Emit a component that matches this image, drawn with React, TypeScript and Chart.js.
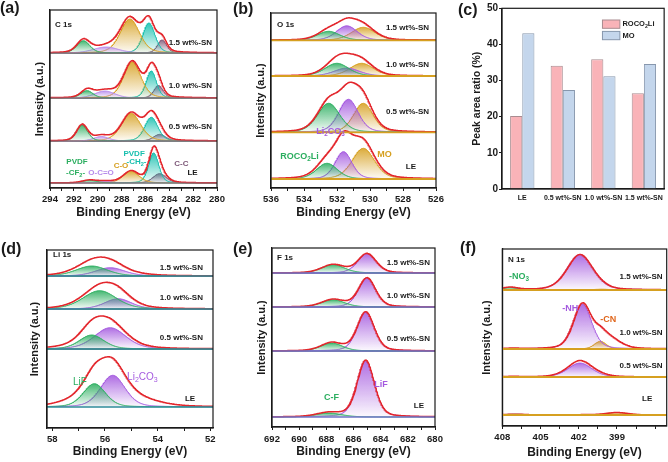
import React, { useEffect, useRef } from 'react';
import { Chart, registerables } from 'chart.js';
Chart.register(...registerables);

const FONT = "'Liberation Sans', Arial, sans-serif";
Chart.defaults.font.family = FONT;

// ===================== DATA =====================
// spectra order inside every XPS panel (top to bottom)
const sampleNames = ['1.5 wt%-SN', '1.0 wt%-SN', '0.5 wt%-SN', 'LE'];

// (a) C 1s — components: PVDF -CF2-, O-C=O, C-O, PVDF -CH2-, C-C  [center eV]
const c1sCenters = [
  [291.2, 289.3, 287.3, 285.7, 284.6],
  [290.9, 289.4, 287.1, 285.5, 284.9],
  [291.3, 289.7, 287.2, 285.5, 284.8],
  [290.7, 289.3, 287.2, 285.3, 284.8],
];
const c1sHeights = [
  [12.3, 6.0, 34, 30, 13],
  [7.4, 7.0, 36, 27, 12.5],
  [16, 4.5, 27.7, 23.7, 6.7],
  [2.7, 1.5, 11.7, 30, 9.4],
];
const c1sFwhm = [
  [1.3, 2.5, 1.9, 1.2, 0.9],
  [1.2, 2.0, 1.7, 1.0, 0.9],
  [1.1, 1.5, 1.9, 1.3, 1.2],
  [1.5, 1.5, 1.6, 1.0, 1.3],
];
const c1sExtra: number[][][] = [[], [], [], []];

// (b) O 1s — components: ROCO2Li, Li2CO3, MO
const o1sCenters = [
  [532.5, 531.4, 530.4],
  [532.0, 531.4, 530.5],
  [532.5, 531.3, 530.4],
  [532.6, 531.6, 530.4],
];
const o1sHeights = [
  [9, 14.5, 13],
  [12.7, 8, 12.7],
  [29, 33, 29],
  [15.7, 27.3, 30.7],
];
const o1sFwhm = [
  [1.6, 1.5, 1.7],
  [1.7, 1.8, 1.7],
  [1.6, 1.4, 1.4],
  [1.5, 1.2, 1.6],
];
const o1sExtra: number[][][] = [[], [], [], [[531.2, 9, 2.4]]];

// (c) peak area ratio (%)
const ratioCategories = ['LE', '0.5 wt%-SN', '1.0 wt%-SN', '1.5 wt%-SN'];
const roco2liRatio = [20.2, 34.1, 35.9, 26.5];
const moRatio = [43.1, 27.4, 31.2, 34.6];

// (d) Li 1s — components: LiF, Li2CO3
const li1sCenters = [
  [56.5, 55.8],
  [56.2, 55.5],
  [56.5, 55.8],
  [56.4, 55.7],
];
const li1sHeights = [
  [10, 8.3],
  [18.3, 10.3],
  [14, 21.3],
  [23.3, 31.7],
];
const li1sFwhm = [
  [1.4, 1.3],
  [1.5, 1.2],
  [1.1, 1.4],
  [1.0, 1.1],
];
const li1sExtra: number[][][] = [
  [[56.0, 4, 2.5]],
  [[56.0, 3, 2.5]],
  [[56.2, 5, 2.5]],
  [[55.2, 11, 2.2], [57.0, 6, 1.6]],
];

// (e) F 1s — components: C-F, LiF
const f1sCenters = [
  [687.5, 685.0],
  [687.5, 685.0],
  [687.6, 685.1],
  [687.8, 685.1],
];
const f1sHeights = [
  [8.3, 19.3],
  [7.3, 29],
  [8, 39],
  [4, 56.7],
];
const f1sFwhm = [
  [2.0, 1.6],
  [2.0, 1.5],
  [1.9, 1.5],
  [2.2, 1.5],
];
const f1sExtra: number[][][] = [[], [], [], []];

// (f) N 1s — components: -NO3, -NH, -CN
const n1sCenters = [
  [407.4, 401.9, 400.2],
  [407.2, 401.7, 400.3],
  [407.2, 401.9, 400.3],
  [407.0, 401.5, 399.0],
];
const n1sHeights = [
  [2.5, 35.5, 0.8],
  [0.6, 45, 7.7],
  [0.5, 14, 0.6],
  [0.8, 0.3, 2.5],
];
const n1sFwhm = [
  [1.5, 2.4, 1.5],
  [1.5, 1.7, 1.1],
  [1.5, 2.2, 1.5],
  [2.0, 2.0, 2.0],
];
const n1sExtra: number[][][] = [[], [[399.6, 10, 2.0]], [[401.8, 2.5, 3]], []];

// tick labels
const c1sMajor = [294, 292, 290, 288, 286, 284, 282, 280];
const c1sMinor = [293, 291, 289, 287, 285, 283, 281];
const o1sMajor = [536, 534, 532, 530, 528, 526];
const o1sMinor = [535, 533, 531, 529, 527];
const li1sMajor = [58, 56, 54, 52];
const li1sMinor = [57, 55, 53];
const f1sMajor = [692, 690, 688, 686, 684, 682, 680];
const f1sMinor = [691, 689, 687, 685, 683, 681];
const n1sMajor = [408, 405, 402, 399];
const n1sMinor = [406.5, 403.5, 400.5, 397.5, 396];
const ratioTicks = [0, 10, 20, 30, 40, 50];

// ===================== STYLE =====================
const GREEN = '#2BAE5F';
const PURPLE = '#A459DF';
const PURPLE_LT = '#B68CEB';
const GOLD = '#D6A020';
const TEAL = '#17BFAE';
const MAUVE = '#7D5878';
const RED = '#E3262C';
const ORANGE = '#E0661C';
const INK = '#1a1a1a';
const ETA = 0.3;

function pv(x: number, c: number, h: number, w: number) {
  const d = (x - c) / w;
  return h * ((1 - ETA) * Math.exp(-4 * Math.LN2 * d * d) + ETA / (1 + 4 * d * d));
}

function hexA(hex: string, a: number) {
  const n = parseInt(hex.slice(1), 16);
  return `rgba(${(n >> 16) & 255},${(n >> 8) & 255},${n & 255},${a})`;
}

function drawRich(ctx: CanvasRenderingContext2D, text: string, x: number, y: number, align: string, size: number, weight: string, color: string) {
  const parts: { t: string; sub: boolean }[] = [];
  let buf = '';
  for (let i = 0; i < text.length; i++) {
    if (text[i] === '_' && i + 1 < text.length) {
      if (buf) parts.push({ t: buf, sub: false });
      buf = '';
      parts.push({ t: text[i + 1], sub: true });
      i++;
    } else buf += text[i];
  }
  if (buf) parts.push({ t: buf, sub: false });
  const f = (sub: boolean) => `${weight} ${sub ? size * 0.7 : size}px ${FONT}`;
  let total = 0;
  parts.forEach((pt) => { ctx.font = f(pt.sub); total += ctx.measureText(pt.t).width; });
  let cx = align === 'left' ? x : align === 'right' ? x - total : x - total / 2;
  ctx.save();
  ctx.fillStyle = color;
  ctx.textBaseline = 'middle';
  ctx.textAlign = 'left';
  parts.forEach((pt) => {
    ctx.font = f(pt.sub);
    ctx.fillText(pt.t, cx, pt.sub ? y + size * 0.3 : y);
    cx += ctx.measureText(pt.t).width;
  });
  ctx.restore();
}

interface Ann { t: string; x: number; y: number; c?: string; al?: string; s?: number; w?: string }
interface SpecPanel {
  box: { x: number; y: number; w: number; h: number };
  area: { l: number; t: number; r: number; b: number };
  yTitleX: number; xTitleY: number; tickPad: number;
  xMin: number; xMax: number; major: number[]; minor: number[];
  baselines: number[];
  colors: string[];
  centers: number[][]; heights: number[][]; fwhm: number[][]; extras: number[][][];
  baseColor: string; baseWidth: number;
  anns: Ann[];
}

const lab = (t: string, x: number, y: number, al = 'right'): Ann => ({ t, x, y, al, c: INK, s: 8, w: 'bold' });

const panelA: SpecPanel = {
  box: { x: 0, y: 0, w: 232, h: 230 },
  area: { l: 50, t: 10, r: 217, b: 188 },
  yTitleX: 40, xTitleY: 213, tickPad: 2.3,
  xMin: 280, xMax: 294, major: c1sMajor, minor: c1sMinor,
  baselines: [135, 90, 47, 5],
  colors: [GREEN, PURPLE_LT, GOLD, TEAL, MAUVE],
  centers: c1sCenters, heights: c1sHeights, fwhm: c1sFwhm, extras: c1sExtra,
  baseColor: '#8E6878', baseWidth: 1.2,
  anns: [
    { t: 'C 1s', x: 293.58, y: 163, al: 'left', c: INK, s: 8, w: 'bold' },
    lab(sampleNames[0], 280.42, 145), lab(sampleNames[1], 280.42, 102), lab(sampleNames[2], 280.42, 61),
    lab(sampleNames[3], 282.05, 15, 'center'),
    { t: 'PVDF', x: 291.74, y: 26, c: GREEN, al: 'center', s: 8, w: 'bold' },
    { t: '-CF_2-', x: 291.86, y: 15, c: GREEN, al: 'center', s: 8, w: 'bold' },
    { t: 'O-C=O', x: 289.72, y: 15, c: PURPLE_LT, al: 'center', s: 8, w: 'bold' },
    { t: 'C-O', x: 288.05, y: 22, c: GOLD, al: 'center', s: 8, w: 'bold' },
    { t: 'PVDF', x: 286.95, y: 34, c: TEAL, al: 'center', s: 8, w: 'bold' },
    { t: '-CH_2-', x: 286.75, y: 26, c: TEAL, al: 'center', s: 8, w: 'bold' },
    { t: 'C-C', x: 282.98, y: 24, c: MAUVE, al: 'center', s: 8, w: 'bold' },
  ],
};

const panelB: SpecPanel = {
  box: { x: 222, y: 0, w: 232, h: 230 },
  area: { l: 271, t: 13, r: 436, b: 188 },
  yTitleX: 261.3, xTitleY: 213, tickPad: 2.3,
  xMin: 526, xMax: 536, major: o1sMajor, minor: o1sMinor,
  baselines: [147.7, 112, 55.7, 9],
  colors: [GREEN, PURPLE, GOLD],
  centers: o1sCenters, heights: o1sHeights, fwhm: o1sFwhm, extras: o1sExtra,
  baseColor: GOLD, baseWidth: 1.8,
  anns: [
    { t: 'O 1s', x: 535.64, y: 163, al: 'left', c: INK, s: 8, w: 'bold' },
    lab(sampleNames[0], 526.42, 160), lab(sampleNames[1], 526.42, 123), lab(sampleNames[2], 526.42, 76),
    lab(sampleNames[3], 527.52, 21, 'center'),
    { t: 'Li_2CO_3', x: 532.39, y: 56, c: PURPLE, al: 'center', s: 9, w: 'bold' },
    { t: 'ROCO_2Li', x: 534.27, y: 31, c: GREEN, al: 'center', s: 9, w: 'bold' },
    { t: 'MO', x: 529.12, y: 33, c: GOLD, al: 'center', s: 9, w: 'bold' },
  ],
};

const panelD: SpecPanel = {
  box: { x: 0, y: 230, w: 232, h: 232 },
  area: { l: 47, t: 250, r: 213, b: 428 },
  yTitleX: 35, xTitleY: 452, tickPad: 2.3,
  xMin: 51.9, xMax: 58.2, major: li1sMajor, minor: li1sMinor,
  baselines: [152, 119, 79, 21],
  colors: [GREEN, PURPLE],
  centers: li1sCenters, heights: li1sHeights, fwhm: li1sFwhm, extras: li1sExtra,
  baseColor: '#2E8B9A', baseWidth: 1.4,
  anns: [
    { t: 'Li 1s', x: 57.97, y: 173, al: 'left', c: INK, s: 8, w: 'bold' },
    lab(sampleNames[0], 52.28, 160), lab(sampleNames[1], 52.28, 130), lab(sampleNames[2], 52.28, 90),
    lab(sampleNames[3], 52.77, 29, 'center'),
    { t: 'LiF', x: 56.95, y: 46, c: GREEN, al: 'center', s: 10, w: 'normal' },
    { t: 'Li_2CO_3', x: 54.58, y: 51, c: PURPLE, al: 'center', s: 10, w: 'normal' },
  ],
};

const panelE: SpecPanel = {
  box: { x: 222, y: 230, w: 232, h: 232 },
  area: { l: 272, t: 248, r: 435, b: 427 },
  yTitleX: 262, xTitleY: 452, tickPad: 3.3,
  xMin: 680, xMax: 692, major: f1sMajor, minor: f1sMinor,
  baselines: [154, 120, 76, 10],
  colors: [GREEN, PURPLE],
  centers: f1sCenters, heights: f1sHeights, fwhm: f1sFwhm, extras: f1sExtra,
  baseColor: '#7075C8', baseWidth: 1.3,
  anns: [
    { t: 'F 1s', x: 691.63, y: 169, al: 'left', c: INK, s: 8, w: 'bold' },
    lab(sampleNames[0], 680.37, 164), lab(sampleNames[1], 680.37, 131), lab(sampleNames[2], 680.37, 88),
    lab(sampleNames[3], 681.18, 21, 'center'),
    { t: 'C-F', x: 687.62, y: 29, c: GREEN, al: 'center', s: 9, w: 'bold' },
    { t: 'LiF', x: 683.97, y: 42, c: PURPLE, al: 'center', s: 9, w: 'bold' },
  ],
};

const panelF: SpecPanel = {
  box: { x: 445, y: 230, w: 223, h: 232 },
  area: { l: 502.3, t: 249, r: 666.7, b: 426 },
  yTitleX: 486.7, xTitleY: 453, tickPad: 2.3,
  xMin: 395.1, xMax: 408, major: n1sMajor, minor: n1sMinor,
  baselines: [136, 77, 49, 11],
  colors: [GREEN, PURPLE, GOLD],
  centers: n1sCenters, heights: n1sHeights, fwhm: n1sFwhm, extras: n1sExtra,
  baseColor: GOLD, baseWidth: 1.8,
  anns: [
    { t: 'N 1s', x: 407.55, y: 166, al: 'left', c: INK, s: 8, w: 'bold' },
    { t: '-NO_3', x: 407.48, y: 149, al: 'left', c: GREEN, s: 9, w: 'bold' },
    lab(sampleNames[0], 395.42, 149), lab(sampleNames[1], 395.42, 93), lab(sampleNames[2], 395.42, 60),
    lab(sampleNames[3], 396.63, 27, 'center'),
    { t: '-NH', x: 402.66, y: 117, c: PURPLE, al: 'center', s: 9, w: 'bold' },
    { t: '-CN', x: 399.68, y: 106, c: ORANGE, al: 'center', s: 9, w: 'bold' },
  ],
};

const Y_TITLE_SIZE = 11;
const X_TITLE_SIZE = 12;

function buildSpecConfig(p: SpecPanel): any {
  const H = p.area.b - p.area.t;
  const N = 420;
  const xs: number[] = [];
  for (let i = 0; i <= N; i++) xs.push(p.xMin + ((p.xMax - p.xMin) * i) / N);
  const datasets: any[] = [];
  p.baselines.forEach((base) => {
    datasets.push({
      data: [{ x: p.xMin, y: base }, { x: p.xMax, y: base }],
      borderColor: p.baseColor, borderWidth: p.baseWidth, pointRadius: 0, fill: false,
    });
  });
  p.baselines.forEach((base, s) => {
    const peaks = p.centers[s].map((c, k) => [c, p.heights[s][k], p.fwhm[s][k]]).concat(p.extras[s] || []);
    datasets.push({
      data: xs.map((x) => ({ x, y: base + peaks.reduce((a, q) => a + pv(x, q[0], q[1], q[2]), 0) })),
      borderColor: RED, borderWidth: 1.5, pointRadius: 0, fill: false,
    });
  });
  p.baselines.forEach((base, s) => {
    p.centers[s].forEach((c, k) => {
      const h = p.heights[s][k];
      const w = p.fwhm[s][k];
      const col = p.colors[k];
      datasets.push({
        data: xs.map((x) => ({ x, y: base + pv(x, c, h, w) })),
        borderColor: col, borderWidth: 1, pointRadius: 0,
        fill: { value: base },
        backgroundColor: (ctx: any) => {
          const chart = ctx.chart;
          if (!chart.chartArea) return hexA(col, 0.3);
          const ys = chart.scales.y;
          const top = ys.getPixelForValue(base + h);
          const bot = ys.getPixelForValue(base);
          if (!isFinite(top) || !isFinite(bot) || bot - top < 0.5) return hexA(col, 0.3);
          const g = chart.ctx.createLinearGradient(0, top, 0, bot);
          g.addColorStop(0, hexA(col, 0.88));
          g.addColorStop(1, hexA(col, 0.03));
          return g;
        },
      });
    });
  });

  const ytBoxLeft = p.yTitleX - (Y_TITLE_SIZE * 1.2) / 2;
  const yW = p.area.l - ytBoxLeft;
  const xBoxBottom = p.xTitleY + (X_TITLE_SIZE * 1.2) / 2;
  const xH = xBoxBottom - p.area.b;
  const allTicks = [...p.major, ...p.minor].sort((a, b) => a - b);

  const framePlugin = {
    id: 'frame',
    beforeDatasetsDraw(chart: any) {
      const { ctx, chartArea: a, scales } = chart;
      ctx.save();
      ctx.strokeStyle = INK;
      ctx.lineWidth = 1;
      p.baselines.slice(0, 3).forEach((b) => {
        const y = scales.y.getPixelForValue(b);
        ctx.beginPath(); ctx.moveTo(a.left, y); ctx.lineTo(a.right, y); ctx.stroke();
      });
      ctx.restore();
    },
    afterDatasetsDraw(chart: any) {
      const { ctx, scales } = chart;
      p.anns.forEach((an) => {
        drawRich(ctx, an.t, scales.x.getPixelForValue(an.x), scales.y.getPixelForValue(an.y),
          an.al || 'center', an.s || 8, an.w || 'bold', an.c || INK);
      });
    },
    afterDraw(chart: any) {
      const { ctx, chartArea: a } = chart;
      ctx.save();
      ctx.strokeStyle = INK;
      ctx.lineWidth = 1.2;
      ctx.strokeRect(a.left, a.top, a.right - a.left, a.bottom - a.top);
      ctx.restore();
    },
  };

  return {
    type: 'line',
    data: { datasets },
    options: {
      animation: false, responsive: false, devicePixelRatio: 1,
      events: [],
      layout: {
        padding: {
          left: ytBoxLeft - p.box.x,
          top: p.area.t - p.box.y,
          right: p.box.x + p.box.w - p.area.r,
          bottom: p.box.y + p.box.h - xBoxBottom,
        },
      },
      elements: { line: { tension: 0 }, point: { radius: 0 } },
      plugins: { legend: { display: false }, tooltip: { enabled: false } },
      scales: {
        x: {
          type: 'linear', reverse: true, min: p.xMin, max: p.xMax,
          afterBuildTicks: (s: any) => { s.ticks = allTicks.map((v) => ({ value: v })); },
          afterFit: (s: any) => { s.height = xH; },
          ticks: {
            autoSkip: false, maxRotation: 0, padding: p.tickPad, color: INK,
            font: { size: 9.5, weight: 'bold', family: FONT },
            callback: (v: number) => (p.major.indexOf(v) >= 0 ? String(v) : ''),
          },
          grid: { drawOnChartArea: false, drawTicks: true, tickLength: 3, color: INK },
          border: { display: true, color: INK, width: 1.2 },
          title: { display: true, text: 'Binding Energy (eV)', color: INK, padding: 0, font: { size: X_TITLE_SIZE, weight: 'bold', family: FONT } },
        },
        y: {
          type: 'linear', min: 0, max: H,
          afterFit: (s: any) => { s.width = yW; },
          ticks: { display: false },
          grid: { display: false },
          border: { display: true, color: INK, width: 1.2 },
          title: { display: true, text: 'Intensity (a.u.)', color: INK, padding: 0, font: { size: Y_TITLE_SIZE, weight: 'bold', family: FONT } },
        },
      },
    },
    plugins: [framePlugin],
  };
}

function buildBarConfig(): any {
  const box = { x: 445, y: 0, w: 223, h: 230 };
  const area = { l: 502, t: 8.3, r: 666, b: 189 };
  const ySize = 10.5;
  const ytBoxLeft = 476.7 - (ySize * 1.2) / 2;
  const legendPlugin = {
    id: 'frameLegend',
    afterDraw(chart: any) {
      const { ctx, chartArea: a } = chart;
      ctx.save();
      ctx.strokeStyle = INK;
      ctx.lineWidth = 1.2;
      ctx.strokeRect(a.left, a.top, a.right - a.left, a.bottom - a.top);
      const items = [
        { t: 'ROCO_2Li', fill: '#F9B3B8', stroke: '#A98C90' },
        { t: 'MO', fill: '#C4D6EC', stroke: '#8797AD' },
      ];
      items.forEach((it, i) => {
        const x = a.right - 61.7;
        const y = a.top + 11.7 + i * 11.4;
        ctx.fillStyle = it.fill;
        ctx.fillRect(x, y, 17.4, 8.3);
        ctx.strokeStyle = it.stroke;
        ctx.lineWidth = 1;
        ctx.strokeRect(x, y, 17.4, 8.3);
        drawRich(ctx, it.t, x + 20, y + 4.3, 'left', 7.5, 'bold', INK);
      });
      ctx.restore();
    },
  };
  return {
    type: 'bar',
    data: {
      labels: ratioCategories,
      datasets: [
        { label: 'ROCO₂Li', data: roco2liRatio, backgroundColor: '#F9B3B8', borderColor: '#A98C90', borderWidth: 1, categoryPercentage: 0.6, barPercentage: 1.0 },
        { label: 'MO', data: moRatio, backgroundColor: '#C4D6EC', borderColor: '#8797AD', borderWidth: 1, categoryPercentage: 0.6, barPercentage: 1.0 },
      ],
    },
    options: {
      animation: false, responsive: false, devicePixelRatio: 1, events: [],
      layout: { padding: { left: ytBoxLeft - box.x, top: area.t - box.y, right: box.x + box.w - area.r, bottom: 0 } },
      plugins: { legend: { display: false }, tooltip: { enabled: false } },
      scales: {
        x: {
          afterFit: (s: any) => { s.height = box.y + box.h - area.b; },
          grid: { display: false, drawTicks: false },
          border: { display: true, color: INK, width: 1.2 },
          ticks: { autoSkip: false, maxRotation: 0, minRotation: 0, padding: 5, color: INK, font: { size: 7, weight: 'bold', family: FONT } },
        },
        y: {
          min: 0, max: 50,
          afterBuildTicks: (s: any) => { s.ticks = ratioTicks.map((v) => ({ value: v })); },
          afterFit: (s: any) => { s.width = area.l - ytBoxLeft; },
          ticks: { padding: 1, color: INK, font: { size: 10, weight: 'bold', family: FONT } },
          grid: { drawOnChartArea: false, drawTicks: true, tickLength: 3, color: INK },
          border: { display: true, color: INK, width: 1.2 },
          title: { display: true, text: 'Peak area ratio (%)', color: INK, padding: 0, font: { size: ySize, weight: 'bold', family: FONT } },
        },
      },
    },
    plugins: [legendPlugin],
  };
}

function SpecChart({ p }: { p: SpecPanel }) {
  const ref = useRef<HTMLCanvasElement>(null);
  useEffect(() => {
    const chart = new Chart(ref.current as HTMLCanvasElement, buildSpecConfig(p));
    return () => chart.destroy();
  }, []);
  return (
    <canvas ref={ref} width={p.box.w} height={p.box.h}
      style={{ position: 'absolute', left: p.box.x, top: p.box.y, width: p.box.w, height: p.box.h }} />
  );
}

function BarChart() {
  const ref = useRef<HTMLCanvasElement>(null);
  useEffect(() => {
    const chart = new Chart(ref.current as HTMLCanvasElement, buildBarConfig());
    return () => chart.destroy();
  }, []);
  return (
    <canvas ref={ref} width={223} height={230}
      style={{ position: 'absolute', left: 445, top: 0, width: 223, height: 230 }} />
  );
}

const panelLetters = [
  { t: '(a)', x: 0, y: -1 },
  { t: '(b)', x: 233, y: 0 },
  { t: '(c)', x: 458, y: 1 },
  { t: '(d)', x: 1, y: 240 },
  { t: '(e)', x: 233, y: 240 },
  { t: '(f)', x: 460, y: 239 },
];

export default function App() {
  return (
    <div style={{ position: 'fixed', left: 0, top: 0, width: 668, height: 462, background: '#fff', overflow: 'hidden' }}>
      <SpecChart p={panelA} />
      <SpecChart p={panelB} />
      <BarChart />
      <SpecChart p={panelD} />
      <SpecChart p={panelE} />
      <SpecChart p={panelF} />
      {panelLetters.map((l) => (
        <div key={l.t} style={{ position: 'absolute', left: l.x, top: l.y, fontFamily: FONT, fontWeight: 'bold', fontSize: 16, lineHeight: '18px', color: INK }}>
          {l.t}
        </div>
      ))}
    </div>
  );
}
